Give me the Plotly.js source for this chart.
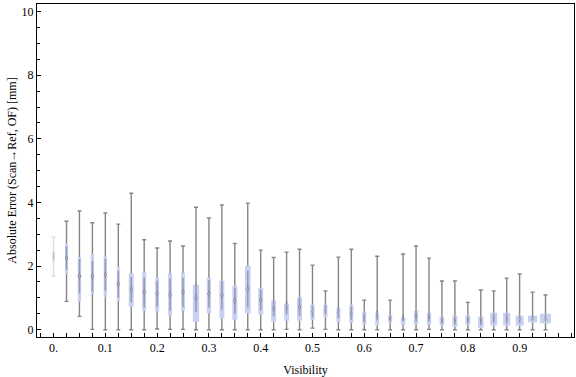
<!DOCTYPE html>
<html>
<head>
<meta charset="utf-8">
<script src="https://cdn.plot.ly/plotly-3.0.1.min.js"></script>
<style>html,body{margin:0;padding:0;background:#fff;}#chart{width:576px;height:377px;}</style>
</head>
<body>
<div id="chart"></div>
<script>
// ---- data ----
const visibility = [0, 0.025, 0.05, 0.075, 0.1, 0.125, 0.15, 0.175, 0.2, 0.225, 0.25, 0.275, 0.3, 0.325,
  0.35, 0.375, 0.4, 0.425, 0.45, 0.475, 0.5, 0.525, 0.55, 0.575, 0.6, 0.625, 0.65, 0.675, 0.7, 0.725,
  0.75, 0.775, 0.8, 0.825, 0.85, 0.875, 0.9, 0.925, 0.95];
const minErr = [1.68, 0.89, 0.42, 0.01, 0, 0, 0, 0, 0.02, 0.01, 0.01, 0, 0, 0, 0, 0, 0, 0, 0.01, 0,
  0.05, 0.01, 0, 0, 0, 0, 0, 0, 0, 0.01, 0, 0, 0, 0, 0, 0, 0, 0, 0];
const q1Err = [2.16, 1.76, 0.88, 1.13, 1.02, 0.89, 0.72, 0.60, 0.57, 0.44, 0.60, 0.25, 0.51, 0.36, 0.31,
  0.51, 0.47, 0.25, 0.28, 0.28, 0.31, 0.39, 0.25, 0.22, 0.17, 0.13, 0.22, 0.16, 0.16, 0.16, 0.13, 0.09,
  0.16, 0.06, 0.13, 0.13, 0.13, 0.23, 0.20];
const medianErr = [2.30, 2.25, 1.68, 1.68, 1.73, 1.43, 1.26, 1.17, 1.13, 1.10, 1.17, 1.00, 1.13, 1.08, 0.91,
  1.28, 0.93, 0.67, 0.69, 0.71, 0.57, 0.62, 0.53, 0.52, 0.38, 0.44, 0.35, 0.35, 0.42, 0.40, 0.29, 0.29,
  0.31, 0.28, 0.36, 0.35, 0.32, 0.36, 0.37];
const q3Err = [2.44, 2.72, 2.28, 2.38, 2.31, 1.98, 1.76, 1.82, 1.63, 1.76, 1.79, 1.41, 1.63, 1.54, 1.38,
  2.01, 1.32, 0.91, 0.82, 1.01, 0.79, 0.79, 0.69, 0.79, 0.57, 0.53, 0.47, 0.38, 0.60, 0.53, 0.41, 0.44,
  0.44, 0.41, 0.53, 0.53, 0.44, 0.44, 0.50];
const maxErr = [2.91, 3.41, 3.73, 3.36, 3.67, 3.32, 4.29, 2.83, 2.57, 2.79, 2.63, 3.85, 3.51, 3.92, 2.71,
  3.98, 2.50, 2.27, 2.44, 2.53, 2.03, 1.22, 2.28, 2.53, 0.93, 2.31, 0.93, 2.38, 2.63, 2.25, 1.53, 1.53,
  0.86, 1.25, 1.22, 1.62, 1.75, 1.18, 1.09];
const xTickVals = [0, 0.1, 0.2, 0.3, 0.4, 0.5, 0.6, 0.7, 0.8, 0.9];
const xTickText = ['0.', '0.1', '0.2', '0.3', '0.4', '0.5', '0.6', '0.7', '0.8', '0.9'];

// ---- style ----
const boxWidthPx = [2, 3, 3.3, 3.3, 3.3, 3, 5, 4, 4, 4, 4, 6.3, 4.3, 5, 5, 5.7, 5, 5, 5, 5, 4.3, 4, 4, 4, 4,
  4, 4, 4.7, 4.3, 4.3, 4.7, 5, 5, 5.7, 7, 7, 8, 9, 11];
const X_RANGE = [-0.032, 1.005];
const Y_RANGE = [-0.23, 10.24];
const PLOT_W = 576 - 37 - 2;
const PLOT_H = 377 - 4 - 40;
const pxPerX = PLOT_W / (X_RANGE[1] - X_RANGE[0]);
const pxPerY = PLOT_H / (Y_RANGE[1] - Y_RANGE[0]);
const BOX = '#c9d1f3';
const WHISK = '#858585';
const serif = 'Liberation Serif, Times New Roman, serif';

function pick(arr, idx) { return idx.map(i => arr[i]); }
const faded = [0];
const normal = visibility.map((_, i) => i).filter(i => !faded.includes(i));

function makeTraces(idx, whiskColor, boxColor, medColor, medLineColor, alpha) {
  const xs = pick(visibility, idx);
  const whisk = {
    type: 'bar', x: xs, y: pick(medianErr, idx),
    width: idx.map(() => 0.001),
    marker: {color: 'rgba(0,0,0,0)', line: {width: 0}},
    error_y: {type: 'data', symmetric: false,
      array: idx.map(i => maxErr[i] - medianErr[i]),
      arrayminus: idx.map(i => medianErr[i] - minErr[i]),
      color: whiskColor, thickness: 1.4, width: 2},
    hoverinfo: 'skip', showlegend: false
  };
  const box = {
    type: 'bar', x: xs, base: pick(q1Err, idx),
    y: idx.map(i => q3Err[i] - q1Err[i]),
    width: idx.map(i => boxWidthPx[i] / pxPerX),
    marker: {color: boxColor, line: {width: 0}},
    hoverinfo: 'skip', showlegend: false
  };
  const medLine = {
    type: 'scatter', mode: 'markers', x: xs, y: pick(medianErr, idx),
    marker: {symbol: 'line-ns', color: medLineColor,
      size: idx.map(i => Math.max(2, 0.55 * (q3Err[i] - q1Err[i]) * pxPerY)),
      line: {width: 1.6, color: medLineColor}},
    hoverinfo: 'skip', showlegend: false
  };
  const med = {
    type: 'scatter', mode: 'markers', x: xs, y: pick(medianErr, idx),
    marker: {symbol: 'diamond-tall', color: medColor, opacity: alpha,
      size: idx.map(i => Math.min(4.5, Math.max(2.5, 0.25 * (q3Err[i] - q1Err[i]) * pxPerY / 1.4))),
      line: {width: 0},
      gradient: {type: 'radial', color: boxColor}},
    hoverinfo: 'skip', showlegend: false
  };
  return [whisk, box, medLine, med];
}

const traces = [
  ...makeTraces(faded, '#dcdcdc', 'rgba(190,190,190,0.6)', '#bdbdbd', 'rgba(180,180,180,0.5)', 0.6),
  ...makeTraces(normal, WHISK, BOX, '#555555', 'rgba(95,95,105,0.65)', 0.9)
];

const layout = {
  width: 576, height: 377,
  margin: {l: 37, r: 2, t: 4, b: 40},
  paper_bgcolor: '#fff', plot_bgcolor: '#fff',
  barmode: 'overlay',
  showlegend: false,
  font: {family: serif, size: 12, color: '#000'},
  xaxis: {
    range: X_RANGE, showgrid: false, zeroline: false,
    showline: true, linecolor: '#000', linewidth: 1, mirror: true,
    ticks: 'inside', ticklen: 4, tickcolor: '#000', tickwidth: 1,
    tickvals: xTickVals, ticktext: xTickText,
    minor: {ticks: 'inside', ticklen: 4, tickcolor: '#000', tick0: 0, dtick: 0.025, showgrid: false},
    tickfont: {family: serif, size: 12, color: '#000'},
    title: {text: 'Visibility', font: {family: serif, size: 12, color: '#000'}, standoff: 12},
    automargin: false
  },
  yaxis: {
    range: Y_RANGE, showgrid: false, zeroline: false,
    showline: true, linecolor: '#000', linewidth: 1, mirror: true,
    ticks: 'inside', ticklen: 4, tickcolor: '#000', tickwidth: 1,
    tick0: 0, dtick: 2,
    minor: {ticks: 'inside', ticklen: 2.5, tickcolor: '#000', tick0: 0, dtick: 0.5, showgrid: false},
    tickfont: {family: serif, size: 12, color: '#000'},
    title: {text: 'Absolute Error (Scan\u2192Ref, OF) [mm]', font: {family: serif, size: 12, color: '#000'}, standoff: 2},
    automargin: false
  }
};

Plotly.newPlot('chart', traces, layout, {staticPlot: true, displayModeBar: false});
</script>
</body>
</html>
